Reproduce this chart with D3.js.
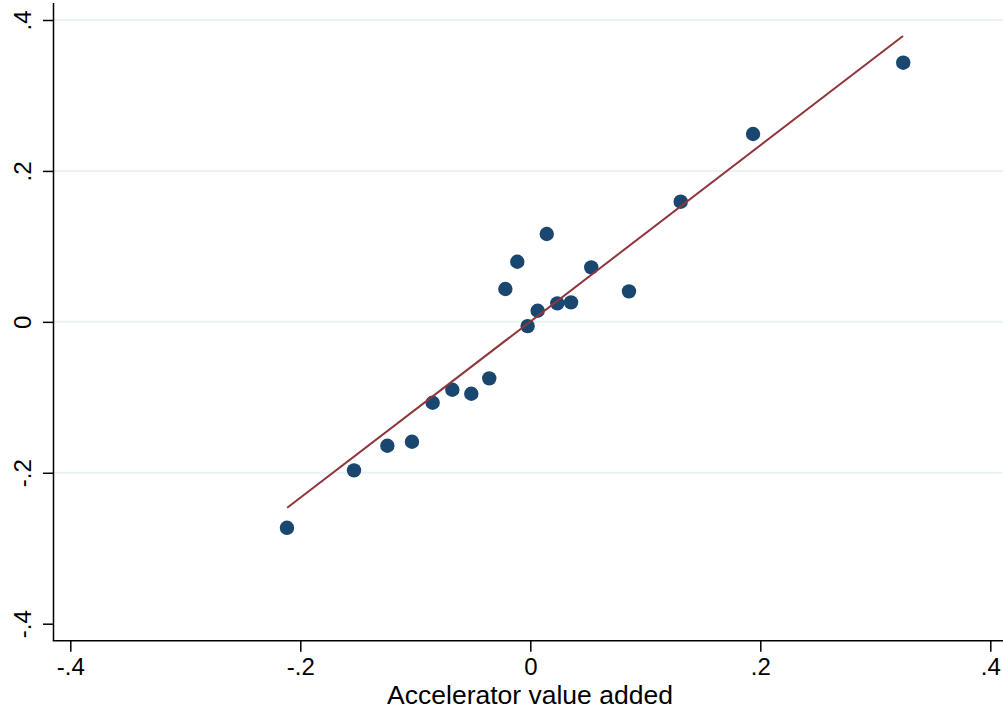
<!DOCTYPE html>
<html>
<head>
<meta charset="utf-8">
<script src="https://cdn.jsdelivr.net/npm/d3@7"></script>
<style>
  body { margin: 0; background: #fff; }
  svg { display: block; font-family: "Liberation Sans", Arial, sans-serif; }
</style>
</head>
<body>
<div id="scatter_div"></div>
<script>
// values
const accelVA = [-0.2116, -0.1533, -0.1243, -0.1029, -0.0849, -0.0678, -0.0513, -0.0357,
                 -0.0217, -0.0113, -0.0023, 0.0064, 0.0143, 0.0235, 0.0354, 0.0530,
                 0.0858, 0.1308, 0.1937, 0.3243];
const outcomeVA = [-0.2729, -0.1968, -0.1642, -0.1589, -0.1072, -0.0900, -0.0953, -0.0749,
                   0.0435, 0.0796, -0.0056, 0.0147, 0.1164, 0.0245, 0.0258, 0.0722,
                   0.0404, 0.1592, 0.2489, 0.3434];
const fitX = [-0.2114, 0.3241];
const fitY = [-0.2464, 0.3787];
const xTicks = [-0.4, -0.2, 0, 0.2, 0.4];
const xTickLabels = ["-.4", "-.2", "0", ".2", ".4"];
const yTicks = [-0.4, -0.2, 0, 0.2, 0.4];
const yTickLabels = ["-.4", "-.2", "0", ".2", ".4"];
const gridTicks = [-0.2, 0, 0.2, 0.4];
const xTitle = "Accelerator value added";

const width = 1003, height = 713;
const plotLeft = 53.5, plotBottom = 640.7, plotTop = 3, plotRight = 1003;

const svg = d3.select("#scatter_div")
    .append("svg")
    .attr("width", width)
    .attr("height", height);

const xScale = d3.scaleLinear().domain([-0.4, 0.4]).range([70.3, 990.3]);
const yScale = d3.scaleLinear().domain([-0.4, 0.4]).range([623.7, 20]);

// gridlines
svg.append("g")
    .selectAll("line")
    .data(gridTicks)
    .join("line")
    .attr("x1", plotLeft)
    .attr("x2", plotRight)
    .attr("y1", d => yScale(d))
    .attr("y2", d => yScale(d))
    .attr("stroke", "#eaf2f3")
    .attr("stroke-width", 2);

// y axis
const yAxis = svg.append("g")
    .attr("transform", "translate(" + plotLeft + ",0)")
    .call(d3.axisLeft(yScale)
        .tickValues(yTicks)
        .tickSize(10.5)
        .tickFormat((d, i) => yTickLabels[i]));
yAxis.select(".domain").remove();
yAxis.selectAll(".tick line").attr("stroke", "#000").attr("stroke-width", 1.5);
yAxis.selectAll(".tick text")
    .attr("transform", "rotate(-90)")
    .attr("x", 0)
    .attr("y", -23)
    .attr("dy", 0)
    .attr("text-anchor", "middle")
    .attr("fill", "#000")
    .style("font-size", "24px");

// x axis
const xAxis = svg.append("g")
    .attr("transform", "translate(0," + plotBottom + ")")
    .call(d3.axisBottom(xScale)
        .tickValues(xTicks)
        .tickSize(11)
        .tickFormat((d, i) => xTickLabels[i]));
xAxis.select(".domain").remove();
xAxis.selectAll(".tick line").attr("stroke", "#000").attr("stroke-width", 1.5);
xAxis.selectAll(".tick text")
    .attr("y", 34.5)
    .attr("dy", 0)
    .attr("fill", "#000")
    .style("font-size", "24px");

// axis lines
svg.append("line")
    .attr("x1", plotLeft).attr("x2", plotLeft)
    .attr("y1", plotTop).attr("y2", plotBottom)
    .attr("stroke", "#000").attr("stroke-width", 1.5);
svg.append("line")
    .attr("x1", plotLeft - 0.75).attr("x2", plotRight)
    .attr("y1", plotBottom).attr("y2", plotBottom)
    .attr("stroke", "#000").attr("stroke-width", 1.5);

// x title
svg.append("text")
    .attr("x", 530)
    .attr("y", 703.5)
    .attr("text-anchor", "middle")
    .style("font-size", "26.5px")
    .attr("fill", "#000")
    .text(xTitle);

// points
svg.append("g")
    .selectAll("circle")
    .data(accelVA)
    .join("circle")
    .attr("cx", d => xScale(d))
    .attr("cy", (d, i) => yScale(outcomeVA[i]))
    .attr("r", 7.2)
    .attr("fill", "#1a476f");

// fitted line
svg.append("path")
    .datum(fitX)
    .attr("fill", "none")
    .attr("stroke", "#90353b")
    .attr("stroke-width", 2)
    .attr("d", d3.line()
        .x(d => xScale(d))
        .y((d, i) => yScale(fitY[i])));
</script>
</body>
</html>
